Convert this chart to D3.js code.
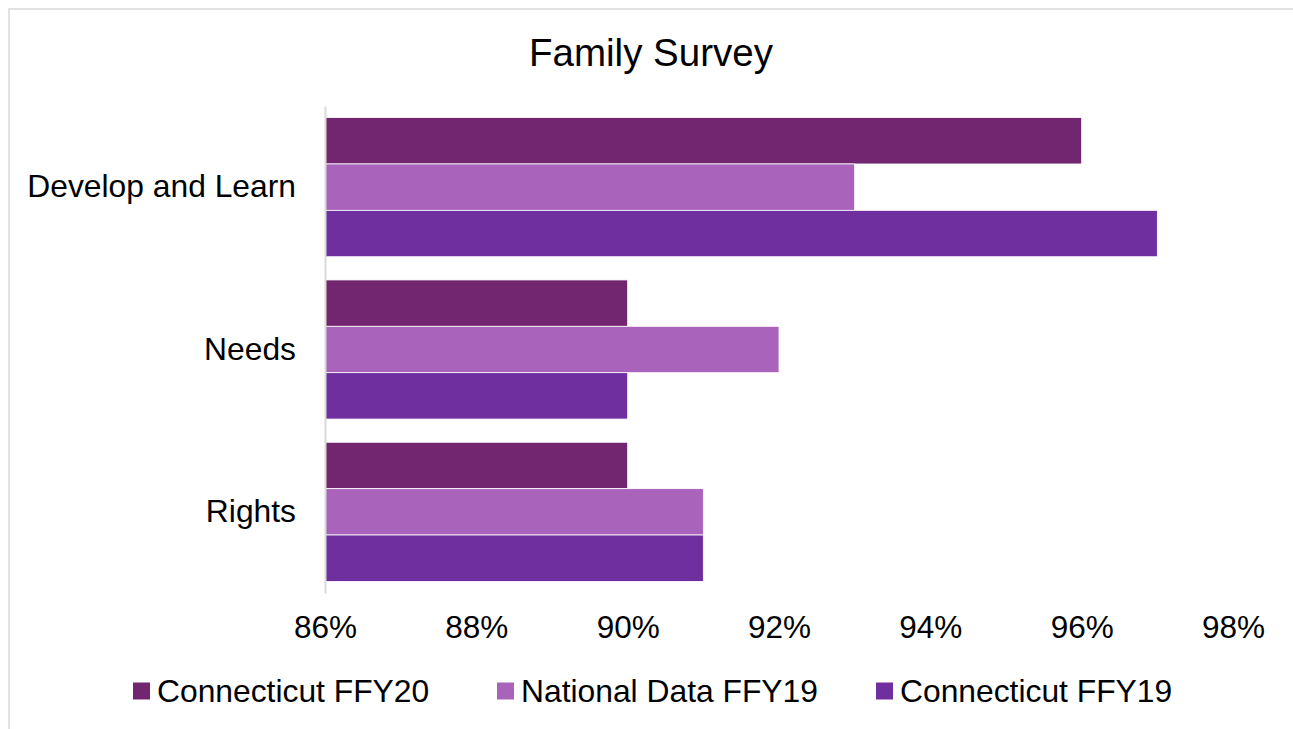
<!DOCTYPE html>
<html>
<head>
<meta charset="utf-8">
<script src="https://cdn.jsdelivr.net/npm/d3@7/dist/d3.min.js"></script>
<style>
  body { margin: 0; background: #fff; }
  svg { display: block; font-family: "Liberation Sans", Arial, sans-serif; }
</style>
</head>
<body>
<div id="chart"></div>
<script>
// ---------- data ----------
const categories = ["Develop and Learn", "Needs", "Rights"];
const seriesNames = ["Connecticut FFY20", "National Data FFY19", "Connecticut FFY19"];
const ctFFY20 = [96, 90, 90];
const nationalFFY19 = [93, 92, 91];
const ctFFY19 = [97, 90, 91];
const tickValues = [86, 88, 90, 92, 94, 96, 98];
const colors = ["#722670", "#a963ba", "#6f2f9f"];

const seriesValues = [ctFFY20, nationalFFY19, ctFFY19];

// ---------- layout ----------
const width = 1293, height = 729;
const margin = { left: 325, right: 60, top: 106, bottom: 136 };
const labelSize = "31.8px";

const svg = d3.select("#chart").append("svg")
    .attr("width", width)
    .attr("height", height);

// chart border (Excel style frame)
svg.append("rect")
    .attr("x", 9).attr("y", 9)
    .attr("width", width + 10).attr("height", height + 10)
    .attr("fill", "#fff")
    .attr("stroke", "#d9d9d9")
    .attr("stroke-width", 1.5);

// title
svg.append("text")
    .attr("x", 651).attr("y", 66)
    .attr("text-anchor", "middle")
    .style("font-size", "38.5px")
    .style("fill", "#000")
    .text("Family Survey");

const x = d3.scaleLinear()
    .domain([86, 98])
    .range([325, 1233]);

const y = d3.scaleBand()
    .domain(categories)
    .range([margin.top, height - margin.bottom])
    .paddingInner(0.143)
    .paddingOuter(0.0715);

const ySub = d3.scaleBand()
    .domain(d3.range(seriesNames.length))
    .range([0, y.bandwidth()]);

// bars
const groups = svg.append("g").selectAll("g")
    .data(categories)
    .join("g")
    .attr("transform", d => `translate(0,${y(d)})`);

groups.selectAll("rect")
    .data((d, ci) => seriesValues.map((vals, si) => ({ si, v: vals[ci] })))
    .join("rect")
    .attr("x", x(86))
    .attr("y", d => ySub(d.si))
    .attr("width", d => x(d.v) - x(86))
    .attr("height", ySub.bandwidth())
    .attr("fill", d => colors[d.si])
    .attr("stroke", "#fff")
    .attr("stroke-width", 0.8);

// x axis labels (no line, no ticks)
const xAxis = svg.append("g")
    .attr("transform", `translate(0,${height - margin.bottom})`)
    .call(d3.axisBottom(x).tickValues(tickValues).tickFormat(d => d + "%").tickSize(0).tickPadding(23));
xAxis.select(".domain").remove();
xAxis.selectAll("text")
    .style("font-size", "31.5px")
    .style("font-family", "\"Liberation Sans\", Arial, sans-serif")
    .attr("fill", "#000");

// y axis: category labels and vertical line
const yAxis = svg.append("g")
    .attr("transform", `translate(${x(86)},0)`)
    .call(d3.axisLeft(y).tickSize(0).tickPadding(29));
yAxis.select(".domain")
    .attr("stroke", "#d9d9d9")
    .attr("stroke-width", 2);
yAxis.selectAll("text")
    .style("font-size", labelSize)
    .style("font-family", "\"Liberation Sans\", Arial, sans-serif")
    .attr("fill", "#000");

// legend
const legendX = [133, 497, 876];
const legend = svg.append("g").selectAll("g")
    .data(seriesNames)
    .join("g")
    .attr("transform", (d, i) => `translate(${legendX[i]},691)`);

legend.append("rect")
    .attr("x", 0).attr("y", -8.5)
    .attr("width", 17).attr("height", 17)
    .attr("fill", (d, i) => colors[i]);

legend.append("text")
    .attr("x", 24).attr("y", 0)
    .attr("dy", "0.35em")
    .style("font-size", labelSize)
    .attr("fill", "#000")
    .text(d => d);
</script>
</body>
</html>
